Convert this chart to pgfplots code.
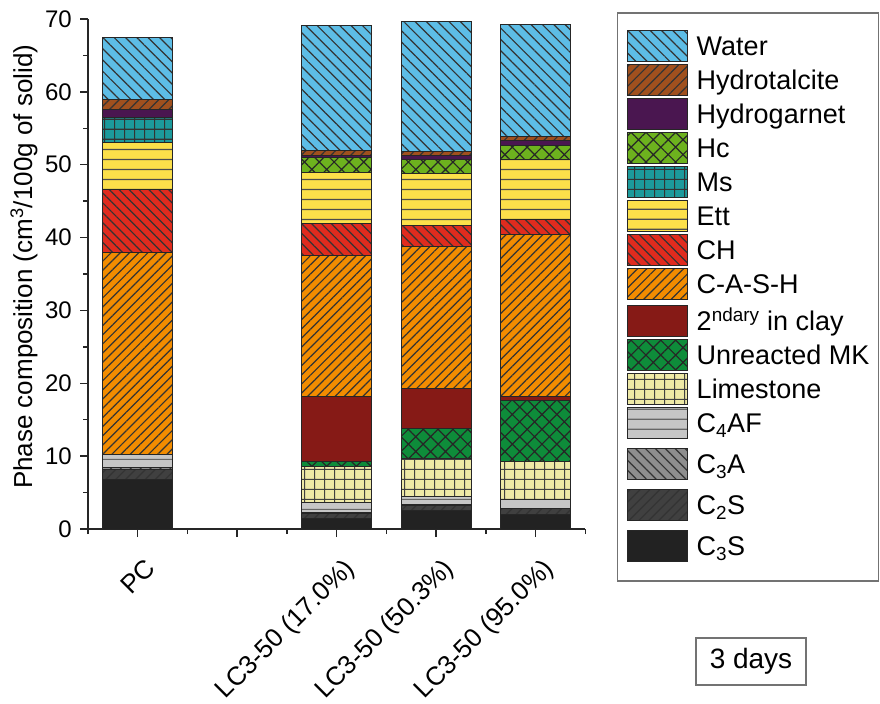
\documentclass[border=0pt]{standalone}
\usepackage{fontspec}
\setmainfont{Liberation Sans}
\usepackage{pgfplots}
\pgfplotsset{compat=1.18}
\usetikzlibrary{patterns,patterns.meta}

% phase colours
\definecolor{cWater}{HTML}{5DBDE6}
\definecolor{cHtc}{HTML}{A0501E}
\definecolor{cHg}{HTML}{4A1650}
\definecolor{cHc}{HTML}{6DB21E}
\definecolor{cMs}{HTML}{1C9A9C}
\definecolor{cEtt}{HTML}{FCE04A}
\definecolor{cCH}{HTML}{E02B1E}
\definecolor{cCASH}{HTML}{F28C00}
\definecolor{cSec}{HTML}{861A16}
\definecolor{cMK}{HTML}{0E8C3A}
\definecolor{cLs}{HTML}{EEE9A6}
\definecolor{cCfourAF}{HTML}{C6C6C6}
\definecolor{cCthreeA}{HTML}{8E8E8E}
\definecolor{cCtwoS}{HTML}{404040}
\definecolor{cCthreeS}{HTML}{222222}

% horizontal lines and square grid on wide tiles
\pgfdeclarepatternformonly{hrule10}{\pgfpoint{0bp}{0bp}}{\pgfpoint{40bp}{10bp}}{\pgfpoint{40bp}{10bp}}{%
  \pgfsetlinewidth{1.3bp}%
  \pgfpathmoveto{\pgfpoint{-2bp}{5bp}}\pgfpathlineto{\pgfpoint{42bp}{5bp}}%
  \pgfusepath{stroke}}
\pgfdeclarepatternformonly{sqgrid10}{\pgfpoint{0bp}{0bp}}{\pgfpoint{10bp}{10bp}}{\pgfpoint{10bp}{10bp}}{%
  \pgfsetlinewidth{1.2bp}%
  \pgfpathmoveto{\pgfpoint{-2bp}{5bp}}\pgfpathlineto{\pgfpoint{12bp}{5bp}}%
  \pgfpathmoveto{\pgfpoint{5bp}{-2bp}}\pgfpathlineto{\pgfpoint{5bp}{12bp}}%
  \pgfusepath{stroke}}

\tikzset{
  bs/.style={draw=black!85, line width=1bp, fill=#1},
  lnNW/.style={postaction={pattern color=black!80, pattern={Lines[angle=-45,distance=#1,line width=1.2bp]}}},
  lnNE/.style={postaction={pattern color=black!80, pattern={Lines[angle=45,distance=#1,line width=1.2bp]}}},
  lnH/.style={postaction={pattern color=#1, pattern=hrule10}},
  sqgrid/.style={postaction={pattern color=#1, pattern=sqgrid10}},
  diam/.style={postaction={pattern color=black!85, pattern={Hatch[angle=45,distance=#1,line width=1.2bp]}}},
}

% struts setting the legend row pitch
\newcommand{\rN}{\rule[-8bp]{0pt}{34bp}}
\newcommand{\rT}{\rule[-8bp]{0pt}{41bp}}
\newcommand{\rS}{\rule[-8bp]{0pt}{37bp}}
\newcommand{\rD}{\rule[-15bp]{0pt}{41bp}}

\begin{document}
\begin{tikzpicture}
\path[use as bounding box] (0,0) rectangle (880bp,704bp);
\begin{axis}[
  at={(88bp,175bp)}, anchor=south west,
  scale only axis, width=497.5bp, height=510bp,
  ybar stacked, bar width=0.7,
  xmin=-0.5, xmax=4.5, ymin=0, ymax=70,
  axis lines*=left,
  axis line style={line width=1.5bp, black!85},
  xtick={0,1,2,3,4},
  xticklabels={PC,,LC3-50 (17.0\%),LC3-50 (50.3\%),LC3-50 (95.0\%)},
  minor xtick={-0.5,0.5,1.5,2.5,3.5,4.5},
  ytick={0,10,...,70},
  minor ytick={5,15,...,65},
  tick align=outside,
  major tick length=8bp, minor tick length=5bp,
  tick style={line width=1.5bp, black!85},
  /pgf/number format/assume math mode=true,
  yticklabel style={font=\fontsize{24bp}{28bp}\selectfont, inner sep=0pt, xshift=-8bp},
  xticklabel style={font=\fontsize{26bp}{30bp}\selectfont, inner sep=0pt,
    xshift=19bp, yshift=-33bp, anchor=base east, rotate=45},
  ylabel={Phase composition (cm\textsuperscript{3}/100g of solid)},
  ylabel style={font=\fontsize{26bp}{30bp}\selectfont, at={(axis description cs:-0.1286,0.514)}, anchor=center},
  legend image code/.code={\draw[#1] (0bp,-5.8bp) rectangle (60bp,25.2bp);},
  reverse legend,
  legend style={at={(1.0633,1.0137)}, anchor=north west,
    draw=black!55, line width=1.5bp,
    inner xsep=9bp, inner ysep=10bp,
    column sep=9bp, row sep=0pt,
    font=\fontsize{27bp}{32bp}\selectfont,
    nodes={inner sep=0pt, text depth=, text height=},
    cells={anchor=base west}},
]
% x = 0: PC, 2: LC3-50 (17.0%), 3: LC3-50 (50.3%), 4: LC3-50 (95.0%)
\addplot[bs=cCthreeS] coordinates {(0,6.8) (2,1.5) (3,2.5) (4,2.0)};
\addplot[bs=cCtwoS, lnNE=7bp] coordinates {(0,1.4) (2,0.6) (3,0.7) (4,0.75)};
\addplot[bs=cCthreeA, lnNW=7bp] coordinates {(0,0.3) (2,0.1) (3,0.1) (4,0.1)};
\addplot[bs=cCfourAF, lnH=black!60] coordinates {(0,1.7) (2,1.4) (3,1.15) (4,1.15)};
\addplot[bs=cLs, sqgrid=black!75] coordinates {(0,0) (2,4.95) (3,5.25) (4,5.25)};
\addplot[bs=cMK, diam=10.5bp] coordinates {(0,0) (2,0.65) (3,4.1) (4,8.45)};
\addplot[bs=cSec] coordinates {(0,0) (2,8.95) (3,5.5) (4,0.55)};
\addplot[bs=cCASH, lnNE=6.5bp] coordinates {(0,27.8) (2,19.45) (3,19.5) (4,22.15)};
\addplot[bs=cCH, lnNW=7bp] coordinates {(0,8.6) (2,4.4) (3,2.9) (4,2.1)};
\addplot[bs=cEtt, lnH=black!70] coordinates {(0,6.4) (2,6.9) (3,7.1) (4,8.2)};
\addplot[bs=cMs, sqgrid=black!80] coordinates {(0,3.5) (2,0) (3,0) (4,0)};
\addplot[bs=cHc, diam=10.5bp] coordinates {(0,0) (2,2.1) (3,1.9) (4,2.0)};
\addplot[bs=cHg] coordinates {(0,1.1) (2,0.3) (3,0.6) (4,0.6)};
\addplot[bs=cHtc, lnNE=7bp] coordinates {(0,1.4) (2,0.6) (3,0.55) (4,0.6)};
\addplot[bs=cWater, lnNW=8bp] coordinates {(0,8.4) (2,17.2) (3,17.75) (4,15.4)};
\legend{C\textsubscript{3}S\rD, C\textsubscript{2}S\rD, C\textsubscript{3}A\rD, C\textsubscript{4}AF\rD,
  Limestone\rN, Unreacted MK\rN, 2\textsuperscript{ndary} in clay\rS, C-A-S-H\rN, CH\rN, Ett\rN,
  Ms\rN, Hc\rN, Hydrogarnet\rN, Hydrotalcite\rN, Water\rT}
\end{axis}
\node[draw=black!55, line width=1.5bp, font=\fontsize{28bp}{32bp}\selectfont,
  minimum width=110bp, minimum height=47bp, inner sep=0pt] at (751bp,42.5bp) {3 days};
\end{tikzpicture}
\end{document}
